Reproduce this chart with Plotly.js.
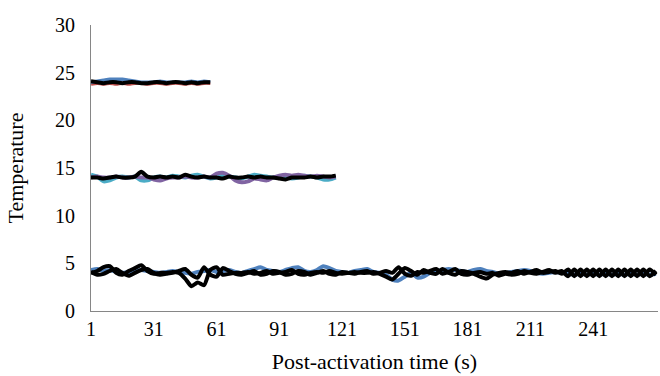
<!DOCTYPE html>
<html>
<head>
<meta charset="utf-8">
<script src="https://cdn.plot.ly/plotly-3.0.1.min.js"></script>
<style>html,body{margin:0;padding:0;background:#fff;}#chart{width:660px;height:376px;}</style>
</head>
<body>
<div id="chart"></div>
<script>
// Post-activation time (s), sampled every 3 s
const time = [1,4,7,10,13,16,19,22,25,28,31,34,37,40,43,46,49,52,55,58,
  61,64,67,70,73,76,79,82,85,88,91,94,97,100,103,106,109,112,115,118,
  121,124,127,130,133,136,139,142,145,148,151,154,157,160,163,166,169,172,175,178,
  181,184,187,190,193,196,199,202,205,208,211,214,217,220,223,226,229,232,235,238,
  241,244,247,250,253,256,259,262,265,268,271];
const xTicks = [1,31,61,91,121,151,181,211,241];

// ~24 °C group (t = 1..58)
const t24Black = [24.1,24.0,23.9,24.0,24.0,23.9,24.0,24.0,23.9,23.9,24.0,24.0,23.9,24.0,24.0,23.9,24.0,23.9,24.0,24.0];
const t24Red   = [23.8,23.9,23.8,23.9,23.8,23.9,23.8,23.9,23.9,23.8,23.9,23.9,23.8,23.9,23.9,23.8,23.9,23.8,23.9,23.9];
const t24Blue  = [24.0,24.1,24.2,24.3,24.3,24.3,24.2,24.1,24.0,24.0,24.0,24.1,24.0,24.0,24.0,24.0,24.1,24.0,24.1,24.0];

// ~14 °C group (t = 1..118)
const t14Black  = [14.0,14.0,13.9,14.0,14.1,14.0,14.0,14.1,14.6,14.1,14.0,14.1,14.0,14.1,14.0,14.3,14.1,14.0,14.1,14.0,
                   14.0,13.9,14.1,14.0,14.0,14.1,14.0,14.1,14.0,14.0,13.9,13.8,14.0,14.0,14.0,14.1,14.0,14.1,14.1,14.2];
const t14Cyan   = [14.3,14.1,13.6,13.7,14.0,14.1,14.0,14.1,13.7,13.7,14.0,14.1,14.0,14.2,14.1,14.0,14.2,14.3,14.1,13.9,
                   14.0,14.2,14.1,14.0,13.9,14.1,14.3,14.2,14.1,14.0,14.1,14.0,13.9,14.0,14.2,14.1,14.0,13.8,13.8,14.0];
const t14Purple = [14.0,14.1,14.0,14.0,14.1,14.0,14.0,14.1,14.0,14.0,13.8,13.7,13.9,14.0,14.0,14.1,14.0,14.0,14.1,14.0,
                   14.4,14.5,14.2,13.7,13.5,13.6,13.9,13.8,13.7,14.0,14.2,14.3,14.2,14.3,14.2,14.1,14.2,14.1,14.0,14.1];

// ~4 °C group (t = 1..271)
const t4BlackA = [4.0,4.2,4.6,4.7,4.0,3.8,4.2,4.5,4.8,4.2,3.9,4.0,4.0,4.1,4.0,3.4,2.6,3.0,2.7,4.3,4.6,3.8,3.9,4.0,
  4.0,4.1,3.9,4.0,4.2,3.9,4.0,4.1,4.3,3.9,3.8,4.0,4.1,4.0,4.2,4.0,3.9,4.0,4.1,4.0,4.0,4.1,3.9,
  3.6,3.3,3.9,4.5,4.2,3.8,4.3,4.0,3.9,4.4,4.0,3.8,4.2,4.1,3.9,3.6,3.4,3.8,4.0,4.1,
  4.0,4.2,3.9,4.1,4.3,4.0,4.1,4.2,3.9,4.35,3.65,4.35,3.65,4.35,3.65,4.35,3.65,4.35,3.65,4.35,3.65,4.35,3.65,4.2];
const t4BlackB = [4.1,3.8,3.9,4.2,4.4,4.0,3.7,4.0,4.3,4.4,4.0,3.8,3.9,4.0,4.2,4.4,3.8,3.5,4.6,3.8,3.6,4.5,4.2,3.9,
  3.8,4.0,4.2,3.8,3.9,4.2,4.1,3.8,3.9,4.2,4.1,3.8,4.0,4.2,3.9,3.8,4.1,4.0,3.9,4.1,4.2,3.9,4.0,
  4.2,4.0,4.6,3.9,3.7,4.1,4.0,4.2,4.4,3.9,4.1,4.4,3.9,3.8,4.0,4.1,3.9,4.0,3.7,3.9,
  3.8,3.9,4.2,4.0,3.9,4.1,4.3,4.0,4.2,3.65,4.35,3.65,4.35,3.65,4.35,3.65,4.35,3.65,4.35,3.65,4.35,3.65,4.35,3.8];
const t4Blue = [4.3,4.4,4.2,4.3,4.1,4.0,4.1,4.2,4.3,4.2,4.1,4.0,4.1,4.2,4.1,4.0,3.9,4.1,4.2,4.3,4.1,
  4.2,4.3,4.1,4.0,4.2,4.4,4.6,4.3,4.2,4.1,4.3,4.5,4.6,4.2,4.1,4.3,4.7,4.5,4.2,4.1,4.0,4.2,4.3,4.4,4.1,4.0,
  3.8,3.3,3.2,3.6,4.0,3.5,3.6,4.0,4.2,4.3,4.4,4.3,4.2,4.1,4.3,4.4,4.2,4.1,3.9,4.0,
  4.1,4.2,4.3,4.2,4.0,3.9,4.0,4.1,4.0,3.9,3.8,3.9,3.8,3.9,3.8,3.9,3.8,3.9,3.8,3.9,3.8,3.9,3.8,3.9];

const BLUE = '#4f81bd', RED = '#c0504d', CYAN = '#4bacc6', PURPLE = '#8064a2', BLACK = '#000000';

function tr(y, color, width) {
  return {
    x: time.slice(0, y.length), y: y, type: 'scatter', mode: 'lines',
    line: {color: color, width: width, shape: 'spline', smoothing: 0.6},
    hoverinfo: 'skip', showlegend: false
  };
}

const data = [
  tr(t24Red, RED, 3.5), tr(t24Blue, BLUE, 3.5),
  tr(t14Cyan, CYAN, 4), tr(t14Purple, PURPLE, 4),
  tr(t4Blue, BLUE, 4),
  tr(t24Black, BLACK, 4), tr(t14Black, BLACK, 4),
  tr(t4BlackA, BLACK, 4), tr(t4BlackB, BLACK, 4)
];

const FAM = '"Liberation Serif", "Times New Roman", serif';
const tickFont = {family: FAM, size: 20, color: '#000'};
const titleFont = {family: FAM, size: 22, color: '#000'};

const layout = {
  width: 660, height: 376,
  margin: {l: 91, r: 2, t: 25, b: 65},
  paper_bgcolor: '#fff', plot_bgcolor: '#fff',
  font: tickFont,
  showlegend: false,
  xaxis: {
    range: [1, 272], tickmode: 'array', tickvals: xTicks, ticktext: xTicks.map(String),
    showgrid: false, zeroline: false, showline: true, linecolor: '#868686', linewidth: 1,
    ticks: '', tickfont: tickFont, automargin: false,
    title: {text: 'Post-activation time (s)', font: titleFont, standoff: 14}
  },
  yaxis: {
    range: [0, 30], dtick: 5, tick0: 0,
    showgrid: false, zeroline: false, showline: true, linecolor: '#868686', linewidth: 1,
    ticks: 'outside', ticklen: 11, tickcolor: 'rgba(0,0,0,0)',
    tickfont: tickFont, automargin: false,
    title: {text: 'Temperature', font: titleFont, standoff: 25}
  }
};

Plotly.newPlot('chart', data, layout, {displayModeBar: false, staticPlot: true});
</script>
</body>
</html>
